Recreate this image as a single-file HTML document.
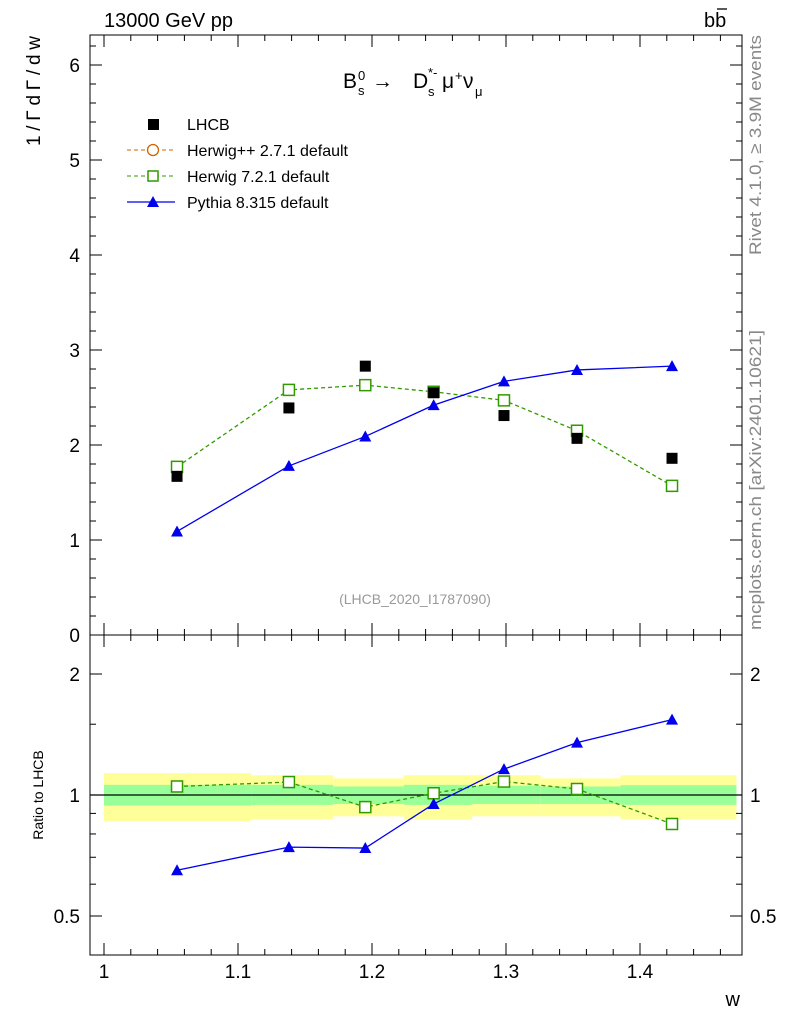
<!DOCTYPE html>
<html><head><meta charset="utf-8"><style>
body{margin:0;background:#fff;}
svg text{font-family:"Liberation Sans",sans-serif;}
</style></head><body>
<svg id="chart" width="786" height="1024" xmlns="http://www.w3.org/2000/svg">
<g id="bands"></g>
<g id="axes"></g>
<g id="series"></g>
<text x="104" y="27" font-size="20">13000 GeV pp</text>
<text x="704" y="27" font-size="20">bb</text>
<line x1="717" y1="9" x2="727" y2="9" stroke="#000" stroke-width="1.3"/>
<text font-size="19" transform="translate(40,146) rotate(-90)" textLength="110" lengthAdjust="spacing">1/ΓdΓ/dw</text>
<text font-size="14" transform="translate(43,795) rotate(-90)" text-anchor="middle">Ratio to LHCB</text>
<text x="740" y="1006" font-size="20" text-anchor="end">w</text>
<text x="415" y="604" font-size="14" fill="#999" text-anchor="middle">(LHCB_2020_I1787090)</text>
<text font-size="17" fill="#888" transform="translate(761,255) rotate(-90)" textLength="220" lengthAdjust="spacingAndGlyphs">Rivet 4.1.0, ≥ 3.9M events</text>
<text font-size="17" fill="#888" transform="translate(761,630) rotate(-90)" textLength="300" lengthAdjust="spacingAndGlyphs">mcplots.cern.ch [arXiv:2401.10621]</text>
<g font-size="21">
<text x="343" y="88">B</text><text x="358" y="95" font-size="13">s</text><text x="358" y="80" font-size="13">0</text>
<text x="372" y="88">→</text>
<text x="413" y="88">D</text><text x="428" y="96" font-size="13">s</text><text x="428" y="77" font-size="13">*-</text>
<text x="442" y="88">μ</text><text x="455" y="80" font-size="13">+</text><text x="463" y="88">ν</text><text x="475" y="96" font-size="13">μ</text>
</g>
<g id="legend"></g>
</svg>
<script>
const wPts=[1.0545,1.138,1.195,1.246,1.2985,1.353,1.4239];
const lhcb=[1.67,2.39,2.83,2.55,2.31,2.07,1.86];
const herwig7=[1.77,2.58,2.63,2.56,2.47,2.15,1.57];
const pythia=[1.09,1.78,2.09,2.42,2.67,2.79,2.83];
const herwigRatio=[1.05,1.077,0.933,1.01,1.08,1.035,0.847];
const pythiaRatio=[0.65,0.742,0.738,0.95,1.16,1.35,1.54];
const binEdges=[1.0,1.11,1.171,1.2236,1.2746,1.326,1.3855,1.472];
const yellowUp=[1.134,1.12,1.10,1.12,1.12,1.10,1.12];
const yellowDn=[0.862,0.87,0.885,0.868,0.885,0.885,0.87];
const greenUp=[1.06,1.06,1.05,1.06,1.055,1.05,1.058];
const greenDn=[0.942,0.945,0.95,0.945,0.95,0.95,0.945];
const xTicks=[1,1.1,1.2,1.3,1.4];
const yTicks=[0,1,2,3,4,5,6];
const rTicks=[0.5,1,2];

const NS="http://www.w3.org/2000/svg";
const L=90,R=742,T=35,M=635,B=955;
const X=w=>104+(w-1)*1340;
const Y=v=>635-v*95;
const RY=r=>795-121*Math.log2(r);
function mk(p,tag,a){const e=document.createElementNS(NS,tag);for(const k in a)e.setAttribute(k,a[k]);p.appendChild(e);return e;}
const bands=document.getElementById('bands'),axes=document.getElementById('axes'),ser=document.getElementById('series'),leg=document.getElementById('legend');

for(let i=0;i<7;i++){
 const x0=X(binEdges[i]),x1=X(binEdges[i+1]);
 const y=mk(bands,'rect',{x:x0,y:RY(yellowUp[i]),width:x1-x0,height:RY(yellowDn[i])-RY(yellowUp[i]),fill:'#ffff99'});
 
 
 const g=mk(bands,'rect',{x:x0,y:RY(greenUp[i]),width:x1-x0,height:RY(greenDn[i])-RY(greenUp[i]),fill:'#99ff99'});
 
 
}
mk(axes,'rect',{x:L,y:T,width:R-L,height:B-T,fill:'none',stroke:'#000','stroke-width':1});
mk(axes,'line',{x1:L,y1:M,x2:R,y2:M,stroke:'#000'});
mk(axes,'line',{x1:L,y1:RY(1),x2:R,y2:RY(1),stroke:'#000','stroke-width':1.3});
for(let v=0;v<=6.3;v+=0.2){const y=Y(v);if(y<T)break;const maj=Math.abs(v-Math.round(v))<1e-6;const l=maj?12:6;
 mk(axes,'line',{x1:L,y1:y,x2:L+l,y2:y,stroke:'#000'});mk(axes,'line',{x1:R,y1:y,x2:R-l,y2:y,stroke:'#000'});}
yTicks.forEach(v=>{const t=mk(axes,'text',{x:80,y:Y(v)+7,'font-size':19,'text-anchor':'end'});t.textContent=v;
 
 });
[0.5,0.6,0.7,0.8,0.9,1,1.5,2].forEach(r=>{const y=RY(r);const maj=rTicks.includes(r);const l=maj?12:6;
 mk(axes,'line',{x1:L,y1:y,x2:L+l,y2:y,stroke:'#000'});mk(axes,'line',{x1:R,y1:y,x2:R-l,y2:y,stroke:'#000'});});
rTicks.forEach(r=>{const t=mk(axes,'text',{x:80,y:RY(r)+7,'font-size':19,'text-anchor':'end'});t.textContent=r;
 
 
 const t2=mk(axes,'text',{x:750,y:RY(r)+7,'font-size':19});t2.textContent=r;
 
 });
for(let w=0.98;w<=1.47;w+=0.02){const x=X(w);if(x<L||x>R)continue;const maj=Math.abs(w*10-Math.round(w*10))<1e-6;const l=maj?12:6;
 [T,M].forEach(y0=>mk(axes,'line',{x1:x,y1:y0,x2:x,y2:y0+l,stroke:'#000'}));
 [M,B].forEach(y0=>mk(axes,'line',{x1:x,y1:y0,x2:x,y2:y0-l,stroke:'#000'}));}
xTicks.forEach(w=>{const t=mk(axes,'text',{x:X(w),y:978,'font-size':19,'text-anchor':'middle'});t.textContent=w;
 
 });

function line(vals,fy,color,dash,name){const p=mk(ser,'polyline',{points:vals.map((v,i)=>X(wPts[i])+','+fy(v)).join(' '),fill:'none',stroke:color,'stroke-width':1.3,'stroke-dasharray':dash||'none'});
 
 }
function sq(x,y,c){const s=mk(ser,'rect',{x:x-5.5,y:y-5.5,width:11,height:11,fill:'#fff',stroke:c,'stroke-width':1.5});
 
 }
function tri(x,y,c){const t=mk(ser,'polygon',{points:`${x},${y-6} ${x-6},${y+5} ${x+6},${y+5}`,fill:c});
 
 }
line(herwig7,Y,'#339900','4,3','herwig-line');
line(pythia,Y,'#0000ee','','pythia-line');
herwig7.forEach((v,i)=>sq(X(wPts[i]),Y(v),'#339900'));
pythia.forEach((v,i)=>tri(X(wPts[i]),Y(v),'#0000ee'));
lhcb.forEach((v,i)=>{const r=mk(ser,'rect',{x:X(wPts[i])-5.5,y:Y(v)-5.5,width:11,height:11,fill:'#000'});
 
 });
line(herwigRatio,RY,'#339900','4,3','herwig-ratio-line');
line(pythiaRatio,RY,'#0000ee','','pythia-ratio-line');
herwigRatio.forEach((v,i)=>sq(X(wPts[i]),RY(v),'#339900'));
pythiaRatio.forEach((v,i)=>tri(X(wPts[i]),RY(v),'#0000ee'));

const legs=[['LHCB','data'],['Herwig++ 2.7.1 default','hpp'],['Herwig 7.2.1 default','h7'],['Pythia 8.315 default','py']];
legs.forEach((e,i)=>{const y=124+i*26;
 if(e[1]=='data')mk(leg,'rect',{x:148,y:y-5,width:11,height:11,fill:'#000'});
 if(e[1]=='hpp'){mk(leg,'line',{x1:127,y1:y,x2:175,y2:y,stroke:'#cc6600','stroke-dasharray':'4,3'});mk(leg,'circle',{cx:153,cy:y,r:5.5,fill:'#fff',stroke:'#cc6600','stroke-width':1.3});}
 if(e[1]=='h7'){mk(leg,'line',{x1:127,y1:y,x2:175,y2:y,stroke:'#339900','stroke-dasharray':'4,3'});mk(leg,'rect',{x:148,y:y-5,width:10,height:10,fill:'#fff',stroke:'#339900','stroke-width':1.5});}
 if(e[1]=='py'){mk(leg,'line',{x1:127,y1:y,x2:175,y2:y,stroke:'#0000ee','stroke-width':1.3});mk(leg,'polygon',{points:`153,${y-6} 147,${y+5} 159,${y+5}`,fill:'#0000ee'});}
 const t=mk(leg,'text',{x:187,y:y+6,'font-size':16});t.textContent=e[0];
 
 });
</script>
</body></html>
